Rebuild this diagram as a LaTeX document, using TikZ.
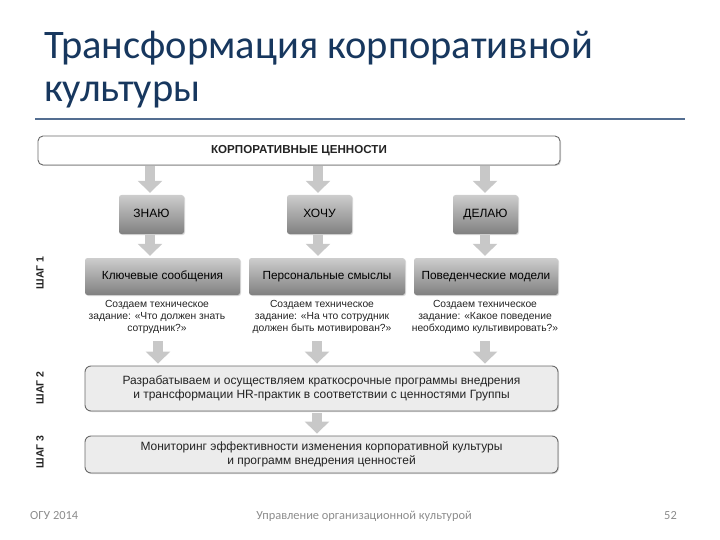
\documentclass[tikz,border=0pt]{standalone}
\usepackage{fontspec}
\setmainfont{Liberation Sans}
\newfontfamily\titlefont{Carlito}
\usetikzlibrary{arrows.meta,shadows}
\definecolor{titleblue}{RGB}{23,55,94}
\definecolor{rulecol}{RGB}{84,110,145}
\definecolor{arrowgray}{RGB}{200,200,200}
\definecolor{boxtop}{RGB}{205,205,205}
\definecolor{boxbot}{RGB}{128,128,128}
\definecolor{stepfill}{RGB}{236,236,236}
\definecolor{bordergray}{RGB}{105,105,105}
\definecolor{textgray}{RGB}{35,35,35}
\definecolor{footgray}{RGB}{140,140,140}
\tikzset{
  px/.style={x=1pt,y=-1pt},
  topbox/.style={draw=bordergray, line width=0.9pt, fill=white, rounded corners=5pt,
    minimum width=522pt, minimum height=29pt, inner sep=0pt,
    font=\bfseries\fontsize{11.6}{13}\selectfont, text=textgray,
    drop shadow={shadow xshift=1pt, shadow yshift=-1pt, opacity=0.35}},
  gradbox/.style={top color=boxtop, bottom color=boxbot, draw=none, rounded corners=2.5pt,
    inner sep=0pt, text=black, text height=8pt, text depth=2pt,
    drop shadow={shadow xshift=1pt, shadow yshift=-1pt, opacity=0.3}},
  smallgrad/.style={gradbox, minimum width=65pt, minimum height=39pt,
    font=\fontsize{12}{14}\selectfont},
  widegrad/.style={gradbox, minimum width=150pt, minimum height=37pt,
    font=\fontsize{11.8}{14}\selectfont},
  desc/.style={align=center, inner sep=0pt, text=textgray,
    font=\fontsize{10.3}{12}\selectfont},
  stepbox/.style={draw=bordergray, line width=0.9pt, fill=stepfill, rounded corners=6pt,
    minimum width=473pt, inner sep=0pt, align=center, text=textgray,
    font=\fontsize{12}{14.5}\selectfont,
    drop shadow={shadow xshift=1pt, shadow yshift=-1pt, opacity=0.3}},
  steplabel/.style={rotate=90, inner sep=0pt, font=\bfseries\fontsize{10.5}{12}\selectfont, text=textgray},
  blockarrow/.style={draw=arrowgray, line width=10pt,
    -{Triangle[length=12pt,width=24pt]}, shorten <=1pt, shorten >=2pt},
  foot/.style={font=\titlefont\fontsize{12.4}{14}\selectfont, text=footgray, inner sep=0pt}
}
\begin{document}
\begin{tikzpicture}[px]
\useasboundingbox (0,0) rectangle (720,540);
% title
\node[anchor=base west, inner sep=0pt, font=\titlefont\fontsize{40.5}{46}\selectfont, text=titleblue] (t1) at (44,59) {Трансформация корпоративной};
\node[anchor=base west, inner sep=0pt, font=\titlefont\fontsize{40.5}{46}\selectfont, text=titleblue] (t2) at (44,102) {культуры};
\coordinate (r1) at (35,119);
\coordinate (r2) at (685,119);
\draw[rulecol, line width=2pt] (r1) -- (r2);
% top box
\node[topbox] (top) at (299,150.5) {КОРПОРАТИВНЫЕ ЦЕННОСТИ};
% upper anchors
\coordinate (u1) at (150,165);
\coordinate (u2) at (318,165);
\coordinate (u3) at (485,165);
% small boxes
\node[smallgrad] (k1) at (151.5,214.5) {ЗНАЮ};
\node[smallgrad] (k2) at (319.5,214.5) {ХОЧУ};
\node[smallgrad] (k3) at (485.5,214.5) {ДЕЛАЮ};
% wide boxes
\node[widegrad, minimum width=155pt] (w1) at (162.5,276.5) {Ключевые сообщения};
\node[widegrad, minimum width=156pt] (w2) at (327,276.5) {Персональные смыслы};
\node[widegrad, minimum width=144pt] (w3) at (486,276.5) {Поведенческие модели};
% descriptions
\node[desc] (d1) at (157,317) {Создаем техническое\\задание: «Что должен знать\\сотрудник?»};
\node[desc] (d2) at (322,317) {Создаем техническое\\задание: «На что сотрудник\\должен быть мотивирован?»};
\node[desc] (d3) at (485,317) {Создаем техническое\\задание: «Какое поведение\\необходимо культивировать?»};
% step boxes
\node[stepbox, minimum height=45pt] (s2) at (321.5,388.5) {Разрабатываем и осуществляем краткосрочные программы внедрения\\и трансформации HR-практик в соответствии с ценностями Группы};
\node[stepbox, minimum height=37pt] (s3) at (321.5,454.5) {Мониторинг эффективности изменения корпоративной культуры\\и программ внедрения ценностей};
% step labels
\node[steplabel] (l1) at (40,273) {ШАГ 1};
\node[steplabel] (l2) at (40,388) {ШАГ 2};
\node[steplabel] (l3) at (40,452) {ШАГ 3};
% arrows
\draw[blockarrow] (u1) -- (u1 |- k1.north);
\draw[blockarrow] (u2) -- (u2 |- k2.north);
\draw[blockarrow] (u3) -- (u3 |- k3.north);
\coordinate (m1) at (150,234);
\coordinate (m2) at (318,234);
\coordinate (m3) at (485,234);
\draw[blockarrow] (m1) -- (m1 |- w1.north);
\draw[blockarrow] (m2) -- (m2 |- w2.north);
\draw[blockarrow] (m3) -- (m3 |- w3.north);
\coordinate (n1) at (158,340);
\coordinate (n2) at (317,340);
\coordinate (n3) at (485,340);
\draw[blockarrow] (n1) -- (n1 |- s2.north);
\draw[blockarrow] (n2) -- (n2 |- s2.north);
\draw[blockarrow] (n3) -- (n3 |- s2.north);
\coordinate (o2) at (317,412);
\draw[blockarrow] (o2) -- (o2 |- s3.north);
% footer
\node[foot, anchor=base west] (f1) at (30,519) {ОГУ 2014};
\node[foot, anchor=base] (f2) at (364,519) {Управление организационной культурой};
\node[foot, anchor=base east] (f3) at (677,519) {52};
\end{tikzpicture}
\end{document}
